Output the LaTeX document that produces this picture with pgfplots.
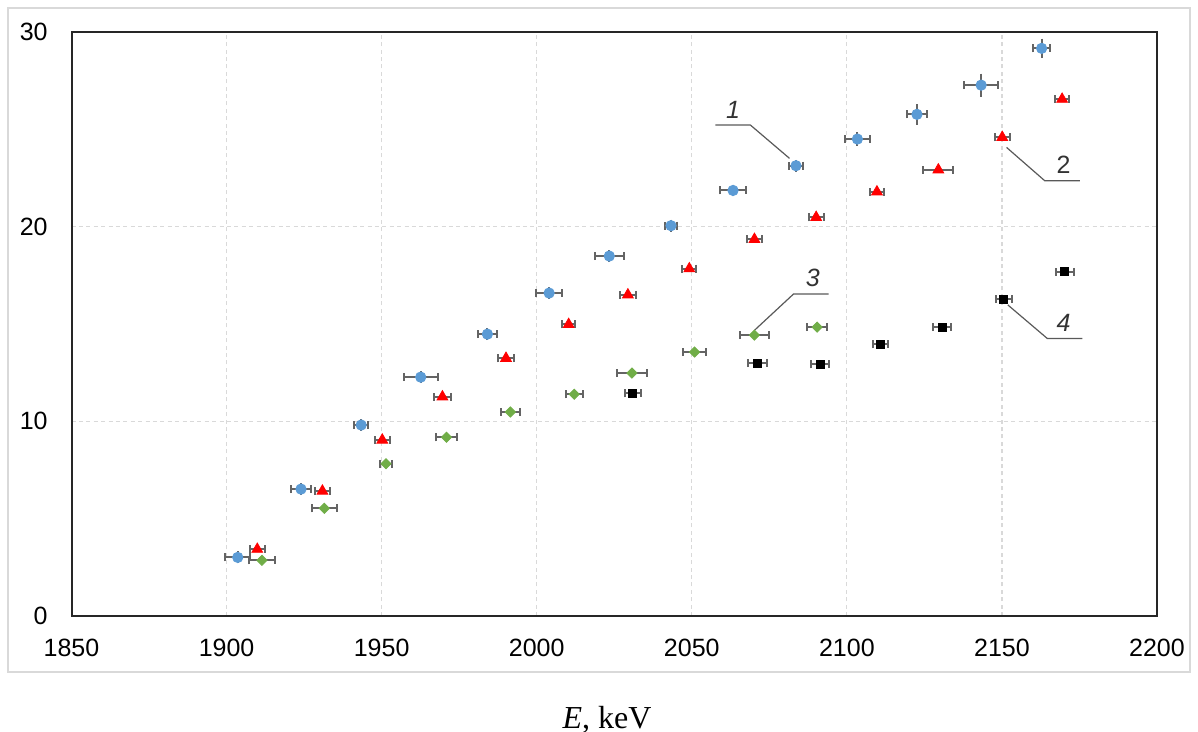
\documentclass[border=0pt]{standalone}
\usepackage{fontspec}
\setmainfont{Liberation Sans}
\newfontfamily\seriffont{Liberation Serif}
\usepackage{pgfplots}
\pgfplotsset{compat=1.18}
\usepackage{pgfplotstable}

\definecolor{cblue}{HTML}{5B9BD5}
\definecolor{cred}{HTML}{FF0000}
\definecolor{cgreen}{HTML}{70AD47}
\definecolor{cblack}{HTML}{000000}
\definecolor{errc}{HTML}{646464}
\definecolor{gridc}{HTML}{D9D9D9}
\definecolor{annc}{HTML}{595959}

% series 1: blue circles
\pgfplotstableread{
x      y     ex   ey
1903.6 3.01  4.0  0.10
1924.0 6.52  3.3  0.10
1943.4 9.81  2.3  0.10
1962.6 12.27 5.5  0.10
1984.1 14.48 3.0  0.10
2004.0 16.59 4.1  0.10
2023.4 18.49 4.6  0.10
2043.3 20.05 1.8  0.10
2063.3 21.86 4.2  0.10
2083.6 23.13 2.4  0.10
2103.4 24.50 3.9  0.15
2122.6 25.77 3.3  0.32
2143.3 27.27 5.5  0.38
2162.8 29.16 2.7  0.30
}\serA
% series 2: red triangles
\pgfplotstableread{
x      y     ex
1909.9 3.43  2.4
1930.9 6.42  2.4
1950.2 9.04  2.4
1969.6 11.26 2.8
1990.1 13.24 2.5
2010.3 14.98 2.2
2029.4 16.50 2.5
2049.2 17.84 2.2
2070.2 19.35 2.4
2090.1 20.48 2.4
2109.7 21.79 2.2
2129.5 22.92 4.8
2150.1 24.59 2.4
2169.4 26.55 2.2
}\serB
% series 3: green diamonds
\pgfplotstableread{
x      y     ex
1911.4 2.86  4.1
1931.5 5.53  4.1
1951.4 7.82  1.9
1970.9 9.18  3.5
1991.5 10.48 3.1
2012.1 11.39 2.8
2030.7 12.48 4.8
2050.9 13.56 3.7
2070.2 14.43 4.8
2090.4 14.84 3.2
}\serC
% series 4: black squares
\pgfplotstableread{
x      y     ex
2031.0 11.44 2.5
2071.1 12.99 3.0
2091.4 12.93 3.0
2110.9 13.97 2.5
2130.7 14.84 2.8
2150.6 16.28 2.5
2170.3 17.68 2.8
}\serD

\pgfplotsset{
    xbars/.style={draw=none, mark=none, forget plot,
        error bars/.cd, x dir=both, x explicit,
        error bar style={draw=errc, solid, line width=1bp},
        error mark options={draw=errc, solid, mark size=2bp, line width=1bp, rotate=90}},
    ybars/.style={draw=none, mark=none, forget plot,
        error bars/.cd, y dir=both, y explicit,
        error bar style={draw=errc, solid, line width=1bp},
        error mark options={draw=errc, solid, mark size=2bp, line width=1bp}},
}

\begin{document}
\begin{tikzpicture}
\useasboundingbox (-35.75bp,-58bp) rectangle (563.25bp,308bp);
\draw[gridc, line width=0.8bp] (-31.75bp,-28bp) rectangle (559.25bp,304bp);

\begin{axis}[
    at={(0,0)}, anchor=south west,
    scale only axis,
    width=542.75bp, height=292bp,
    xmin=1850, xmax=2200,
    ymin=0, ymax=30,
    xtick distance=50,
    ytick={0,10,20,30},
    scaled ticks=false,
    /pgf/number format/assume math mode=true,
    /pgf/number format/set thousands separator={},
    major tick length=0pt,
    grid=major,
    major grid style={gridc, line width=0.6bp, dash pattern=on 2bp off 1.7bp},
    axis line style={line width=1bp, black!85},
    tick label style={font=\fontsize{12.5bp}{15bp}\selectfont, inner sep=0pt},
    xticklabel style={yshift=-11.5bp},
    yticklabel style={xshift=-11.75bp},
    xlabel={{\seriffont\itshape E}{\seriffont , keV}},
    xlabel style={at={(rel axis cs:0.4933,0)}, anchor=base, yshift=-56bp,
        inner sep=0pt, font=\fontsize{16bp}{19bp}\selectfont},
    clip=false,
]

% error bars first, markers on top
\addplot[xbars] table[x=x, y=y, x error=ex] {\serA};
\addplot[ybars] table[x=x, y=y, y error=ey] {\serA};
\addplot[xbars] table[x=x, y=y, x error=ex] {\serB};
\addplot[xbars] table[x=x, y=y, x error=ex] {\serC};
\addplot[xbars] table[x=x, y=y, x error=ex] {\serD};

\addplot[only marks, mark=*, mark size=2.6bp, mark options={fill=cblue, draw=cblue}]
    table[x=x, y=y] {\serA};
\addplot[only marks, mark=triangle*, mark size=3.1bp, mark options={fill=cred, draw=cred}]
    table[x=x, y=y] {\serB};
\addplot[only marks, mark=square*, mark size=1.8bp, mark options={fill=cgreen, draw=cgreen, rotate=45}]
    table[x=x, y=y] {\serC};
\addplot[only marks, mark=square*, mark size=2bp, mark options={fill=cblack, draw=cblack}]
    table[x=x, y=y] {\serD};

% leader lines and curve numbers
\draw[annc, line width=0.6bp] (axis cs:2057.6,25.22) -- (axis cs:2068.9,25.22) -- (axis cs:2081.5,23.51);
\draw[annc, line width=0.6bp] (axis cs:2151.5,24.07) -- (axis cs:2163.8,22.36) -- (axis cs:2175.1,22.36);
\draw[annc, line width=0.6bp] (axis cs:2070.3,14.69) -- (axis cs:2082.8,16.54) -- (axis cs:2094.1,16.54);
\draw[annc, line width=0.6bp] (axis cs:2151.9,15.98) -- (axis cs:2164.6,14.26) -- (axis cs:2175.9,14.26);
\node[inner sep=0pt, font=\fontsize{12.5bp}{15bp}\selectfont\itshape, text=black!80] at (axis cs:2063.3,26.02) {1};
\node[inner sep=0pt, font=\fontsize{12.5bp}{15bp}\selectfont, text=black!80] at (axis cs:2169.9,23.16) {2};
\node[inner sep=0pt, font=\fontsize{12.5bp}{15bp}\selectfont\itshape, text=black!80] at (axis cs:2089.0,17.38) {3};
\node[inner sep=0pt, font=\fontsize{12.5bp}{15bp}\selectfont\itshape, text=black!80] at (axis cs:2169.9,15.06) {4};
\end{axis}
\end{tikzpicture}
\end{document}
